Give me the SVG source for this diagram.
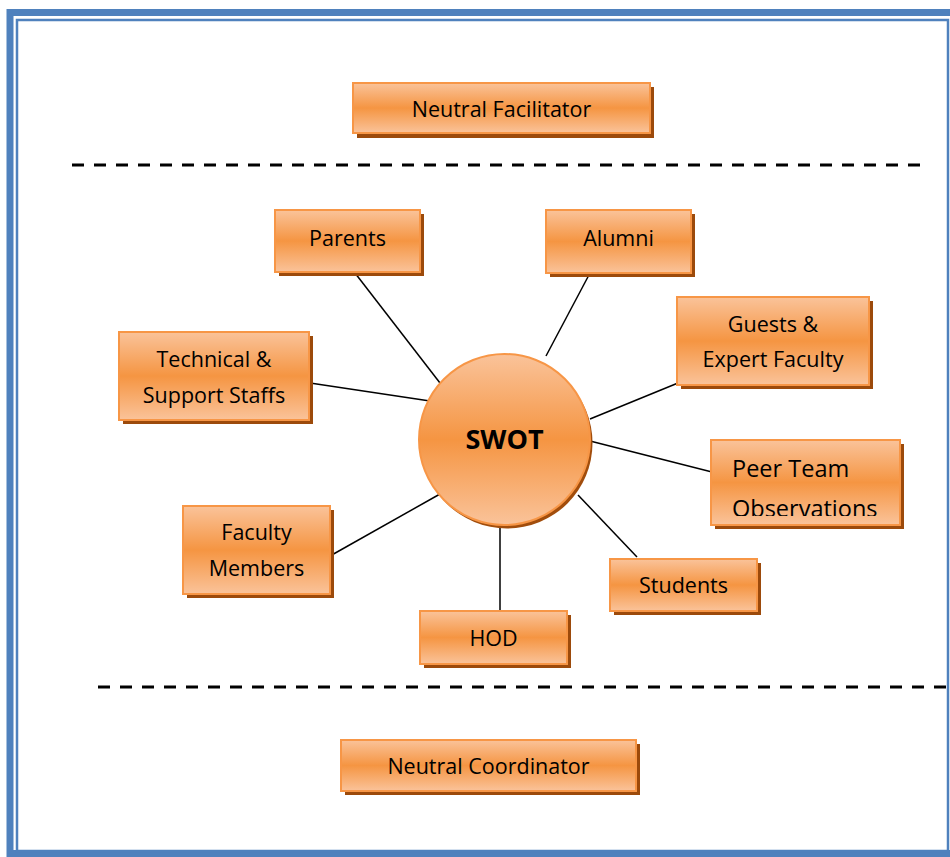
<svg xmlns="http://www.w3.org/2000/svg" width="950" height="857" viewBox="0 0 950 857">
<defs>
<linearGradient id="g" x1="0" y1="0" x2="0" y2="1">
<stop offset="0" stop-color="#fac39a"/>
<stop offset="0.5" stop-color="#f59542"/>
<stop offset="1" stop-color="#fac39a"/>
</linearGradient>
<linearGradient id="gc" x1="0" y1="0" x2="0" y2="1">
<stop offset="0" stop-color="#fac39a"/>
<stop offset="0.5" stop-color="#f59542"/>
<stop offset="1" stop-color="#fac39a"/>
</linearGradient>
<clipPath id="peerclip"><rect x="711" y="440" width="189" height="76"/></clipPath>
</defs>
<style>
.box{fill:url(#g);stroke:#f79646;stroke-width:2}
.sh{fill:#9c4a0b}
.t{font-family:"Open Sans","Liberation Sans",sans-serif;font-size:21.5px;fill:#000;text-anchor:middle}
.conn line{stroke:#000;stroke-width:1.5}
.dash{stroke:#000;stroke-width:3;stroke-dasharray:12 10}
</style>
<rect width="950" height="857" fill="#fff"/>
<g id="frame" fill="none">
<rect x="10" y="12.5" width="950" height="841" stroke="#4f81bd" stroke-width="7"/>
<rect x="17" y="20" width="931" height="831" stroke="#4f81bd" stroke-width="2.5"/>
</g>
<line class="dash" x1="72" y1="165" x2="920" y2="165"/>
<line class="dash" x1="98" y1="687" x2="946" y2="687"/>
<g class="conn" id="connectors">
<line x1="355" y1="273" x2="440" y2="383"/>
<line x1="590" y1="273" x2="546" y2="356"/>
<line x1="678" y1="383" x2="590" y2="419"/>
<line x1="310" y1="383" x2="430" y2="401"/>
<line x1="712" y1="472" x2="590" y2="441"/>
<line x1="637" y1="557" x2="578" y2="495"/>
<line x1="500" y1="610" x2="500" y2="525"/>
<line x1="330" y1="556" x2="440" y2="494"/>
</g>
<g id="swot">
<circle cx="507" cy="443" r="85.5" fill="#a14d0c"/>
<circle cx="504.5" cy="439.5" r="85.5" fill="url(#gc)" stroke="#f79646" stroke-width="2"/>
<text x="504.5" y="449" font-family="Open Sans,Liberation Sans,sans-serif" font-size="27" font-weight="bold" text-anchor="middle">SWOT</text>
</g>
<g id="facilitator">
<rect class="sh" x="357" y="87" width="297" height="51"/>
<rect class="box" x="353" y="83" width="297" height="50"/>
<text class="t" x="501.5" y="117">Neutral Facilitator</text>
</g>
<g id="parents">
<rect class="sh" x="279" y="214" width="145" height="62"/>
<rect class="box" x="275" y="210" width="145" height="62"/>
<text class="t" x="347.5" y="246">Parents</text>
</g>
<g id="alumni">
<rect class="sh" x="550" y="214" width="145" height="63"/>
<rect class="box" x="546" y="210" width="145" height="63"/>
<text class="t" x="618.5" y="246">Alumni</text>
</g>
<g id="guests">
<rect class="sh" x="681" y="301" width="192" height="88"/>
<rect class="box" x="677" y="297" width="192" height="88"/>
<text class="t" x="773" y="332">Guests &amp;</text>
<text class="t" x="773" y="367">Expert Faculty</text>
</g>
<g id="technical">
<rect class="sh" x="123" y="336" width="190" height="88"/>
<rect class="box" x="119" y="332" width="190" height="88"/>
<text class="t" x="214" y="367">Technical &amp;</text>
<text class="t" x="214" y="403">Support Staffs</text>
</g>
<g id="peer">
<rect class="sh" x="715" y="444" width="189" height="85"/>
<rect class="box" x="711" y="440" width="189" height="85"/>
<g clip-path="url(#peerclip)">
<text class="t" x="732" y="477" style="text-anchor:start;font-size:23.5px">Peer Team</text>
<text class="t" x="732" y="517" style="text-anchor:start;font-size:23.5px">Observations</text>
</g>
</g>
<g id="faculty">
<rect class="sh" x="187" y="510" width="147" height="88"/>
<rect class="box" x="183" y="506" width="147" height="88"/>
<text class="t" x="256.5" y="540">Faculty</text>
<text class="t" x="256.5" y="576">Members</text>
</g>
<g id="students">
<rect class="sh" x="614" y="563" width="147" height="52"/>
<rect class="box" x="610" y="559" width="147" height="52"/>
<text class="t" x="683.5" y="593">Students</text>
</g>
<g id="hod">
<rect class="sh" x="424" y="615" width="147" height="53"/>
<rect class="box" x="420" y="611" width="147" height="53"/>
<text class="t" x="493.5" y="646">HOD</text>
</g>
<g id="coordinator">
<rect class="sh" x="345" y="744" width="295" height="51"/>
<rect class="box" x="341" y="740" width="295" height="51"/>
<text class="t" x="488.5" y="774">Neutral Coordinator</text>
</g>
</svg>
